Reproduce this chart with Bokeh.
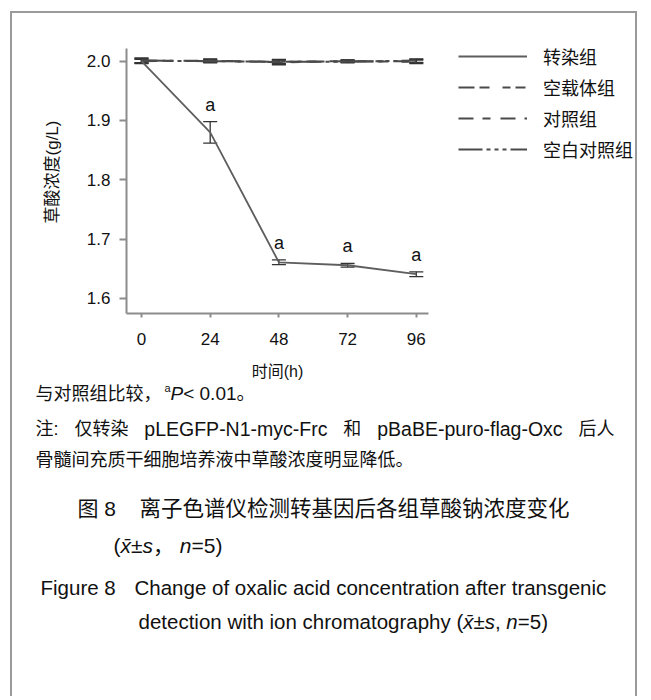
from bokeh.plotting import figure
from bokeh.models import (ColumnDataSource, Whisker, TeeHead, Legend, LegendItem,
                          FixedTicker, Range1d, PrintfTickFormatter)
from bokeh.core.properties import value
from bokeh.embed import file_html
from bokeh.resources import INLINE

# ---------------- data ----------------
hours = [0, 24, 48, 72, 96]
group_names = ["转染组", "空载体组", "对照组", "空白对照组"]
transfected = [2.000, 1.880, 1.661, 1.656, 1.641]
transfected_sd = [0.004, 0.018, 0.004, 0.003, 0.004]
empty_vector = [2.001, 2.000, 1.999, 2.000, 1.999]
empty_vector_sd = [0.004, 0.003, 0.004, 0.002, 0.003]
control = [2.000, 2.001, 1.998, 2.000, 2.000]
control_sd = [0.003, 0.003, 0.004, 0.002, 0.003]
blank = [2.001, 2.000, 1.999, 1.999, 2.001]
blank_sd = [0.004, 0.002, 0.003, 0.002, 0.003]
sig_marks = ["", "a", "a", "a", "a"]
y_ticks = [1.6, 1.7, 1.8, 1.9, 2.0]
x_label = "时间(h)"
y_label = "草酸浓度(g/L)"

# ---------------- layout constants ----------------
OX, OY = 12, 13                 # page position of the inner box
CW, CH = 627, 347               # chart figure size
MB_L, MB_R, MB_T, MB_B = 114, 0, 17, 47
CAP_Y0 = OY + CH
CAP_H = 698 - CAP_Y0            # caption figure height
BORDER = "2px solid #9a9a9a"

X_AXIS = (-5.24, 100.3)         # visible extent of the x axis (h)
Y_AXIS = (1.5747, 2.0214)       # visible extent of the y axis (g/L)
PX_PER_H = 2.8625
PX_PER_UNIT = 593.3
frame_w = CW - MB_L - MB_R
frame_h = CH - MB_T - MB_B
x_end = X_AXIS[0] + frame_w / PX_PER_H          # frame continues right for the key
y_end = Y_AXIS[0] + frame_h / PX_PER_UNIT        # and up a little above the axis

LATIN = "Liberation Sans"
MIX = "Liberation Sans, Noto Sans CJK SC"
CJK = "Noto Sans CJK SC"
TXT = "#111111"

p = figure(width=CW, height=CH, output_backend="svg", toolbar_location=None,
           x_range=Range1d(X_AXIS[0], x_end), y_range=Range1d(Y_AXIS[0], y_end),
           min_border_left=MB_L, min_border_right=MB_R,
           min_border_top=MB_T, min_border_bottom=MB_B,
           background_fill_color="white", border_fill_color="white",
           styles={"margin-left": "10px", "margin-top": "11px", "border-left": BORDER,
                   "border-right": BORDER, "border-top": BORDER})
p.outline_line_color = None
p.xgrid.visible = False
p.ygrid.visible = False

AX = "#8c8c8c"
for ax in (p.xaxis, p.yaxis):
    ax.axis_line_color = AX
    ax.axis_line_width = 2
    ax.major_tick_line_color = AX
    ax.major_tick_line_width = 2
    ax.minor_tick_line_color = None
    ax.major_tick_in = 0
    ax.major_label_text_font = LATIN
    ax.major_label_text_font_size = "17px"
    ax.major_label_text_color = TXT
    ax.axis_label_text_font = MIX
    ax.axis_label_text_font_style = "normal"
    ax.axis_label_text_color = TXT

p.xaxis.bounds = X_AXIS
p.xaxis.ticker = FixedTicker(ticks=hours)
p.xaxis.major_tick_out = 4
p.xaxis.major_label_standoff = 15

p.yaxis.bounds = Y_AXIS
p.yaxis.ticker = FixedTicker(ticks=y_ticks)
p.yaxis.formatter = PrintfTickFormatter(format="%.1f")
p.yaxis.major_tick_out = 7
p.yaxis.major_label_standoff = 9
p.yaxis.axis_label = y_label
p.yaxis.axis_label_text_font_size = "17px"
p.yaxis.axis_label_standoff = 22

# ---------------- series ----------------
series = [
    (group_names[1], empty_vector, empty_vector_sd, "16 5 10 13 8 5 10 5"),
    (group_names[2], control, control_sd, "15 9 8 10"),
    (group_names[3], blank, blank_sd, "24 4 4 4 4 4 4 4"),
]
renderers = {}
for name, vals, sd, dash in series:
    src = ColumnDataSource(dict(x=hours, y=vals,
                                lo=[v - s for v, s in zip(vals, sd)],
                                hi=[v + s for v, s in zip(vals, sd)]))
    r = p.line("x", "y", source=src, line_color="#4a4a4a", line_width=2, line_dash=dash)
    renderers[name] = r
    p.add_layout(Whisker(base="x", upper="hi", lower="lo", source=src,
                         line_color="#333333", line_width=1.3,
                         upper_head=TeeHead(size=14, line_color="#333333", line_width=1.3),
                         lower_head=TeeHead(size=14, line_color="#333333", line_width=1.3)))

tsrc = ColumnDataSource(dict(x=hours, y=transfected,
                             lo=[v - s for v, s in zip(transfected, transfected_sd)],
                             hi=[v + s for v, s in zip(transfected, transfected_sd)],
                             sig=sig_marks))
rt = p.line("x", "y", source=tsrc, line_color="#5e5e5e", line_width=1.8)
renderers[group_names[0]] = rt
p.add_layout(Whisker(base="x", upper="hi", lower="lo", source=tsrc,
                     line_color="#333333", line_width=1.3,
                     upper_head=TeeHead(size=14, line_color="#333333", line_width=1.3),
                     lower_head=TeeHead(size=14, line_color="#333333", line_width=1.3)))
p.text("x", "hi", text="sig", source=tsrc, y_offset=-17,
       text_font=value(LATIN), text_font_size="18px", text_color=TXT,
       text_align="center", text_baseline="middle")

legend = Legend(items=[LegendItem(label=n, renderers=[renderers[n]]) for n in group_names],
                location=(332, 151), orientation="vertical",
                border_line_color=None, background_fill_alpha=0,
                padding=0, margin=0, spacing=5,
                glyph_width=69, glyph_height=20, label_height=20, label_standoff=16,
                label_text_font=CJK, label_text_font_size="18px", label_text_color=TXT)
p.add_layout(legend)

# ---------------- captions (second root, stacked below) ----------------
cap = figure(width=CW, height=CAP_H, output_backend="svg", toolbar_location=None,
             x_range=Range1d(0, CW), y_range=Range1d(CAP_H, 0),
             x_axis_type=None, y_axis_type=None,
             min_border=0, background_fill_color="white", border_fill_color="white",
             styles={"margin-left": "10px", "border-left": BORDER, "border-right": BORDER})
cap.outline_line_color = None
cap.xgrid.visible = False
cap.ygrid.visible = False

ARIAL = {' ': 278, '!': 278, '(': 333, ')': 333, ',': 278, '-': 333, '.': 278, '/': 278,
         ':': 278, '<': 584, '=': 584, '>': 584, '±': 549, '\u0304': 0}
ARIAL.update({d: 556 for d in "0123456789"})
ARIAL.update(dict(zip("ABCDEFGHIJKLMNOPQRSTUVWXYZ",
                      [667, 667, 722, 722, 667, 611, 778, 722, 278, 500, 667, 556, 833,
                       722, 778, 667, 778, 722, 667, 611, 722, 667, 944, 667, 667, 611])))
ARIAL.update(dict(zip("abcdefghijklmnopqrstuvwxyz",
                      [556, 556, 500, 556, 556, 278, 556, 556, 222, 222, 500, 222, 833,
                       556, 556, 556, 556, 333, 500, 278, 556, 500, 722, 500, 500, 500])))


def tw(s, size):
    return sum(ARIAL.get(c, 1000 if ord(c) > 0x2E7F else 556) for c in s) / 1000 * size


def put(x, y, txt, size, style="normal", dy=0):
    cap.text(x=[x - OX], y=[y - CAP_Y0 - dy], text=[txt],
             text_font=value(MIX), text_font_size=f"{size}px",
             text_font_style=style, text_color=TXT,
             text_align="left", text_baseline="middle")


def run(x, y, segs):
    """x, y in page pixels; segments laid out left to right."""
    for seg in segs:
        txt, size = seg[0], seg[1]
        style = seg[2] if len(seg) > 2 else "normal"
        dy = seg[3] if len(seg) > 3 else 0
        put(x, y, txt, size, style, dy)
        x += tw(txt, size)


def justify(x0, x1, y, words):
    """words: list of (text, size); spread to fill x0..x1 like justified text."""
    widths = [tw(t, s) for t, s in words]
    gap = (x1 - x0 - sum(widths)) / (len(words) - 1)
    x = x0
    for (t, s), w in zip(words, widths):
        put(x, y, t, s)
        x += w + gap


# x-axis title, centred under the drawn axis (0..96 h span)
axis_mid_px = 126 + (sum(X_AXIS) / 2 - X_AXIS[0]) * PX_PER_H
put(axis_mid_px - tw(x_label, 16) / 2, 373, x_label, 16)

# note lines
run(35, 395, [("与对照组比较，", 18)])
put(164, 395, "a", 11, dy=6)
run(170, 395, [("P", 19, "italic"), (" < 0.01。", 19)])
justify(35, 614, 430, [("注:", 18), ("仅转染", 18), ("pLEGFP-N1-myc-Frc", 19.5), ("和", 18),
                       ("pBaBE-puro-flag-Oxc", 19.5), ("后人", 18)])
run(35, 461, [("骨髓间充质干细胞培养液中草酸浓度明显降低。", 18)])

# Chinese title
put(77, 510, "图 8", 21)
put(139, 510, "离子色谱仪检测转基因后各组草酸钠浓度变化", 21.5)
run(113, 547, [("(", 21), ("x\u0304", 21, "italic"), ("±", 21), ("s", 21, "italic"),
               ("，", 21), (" ", 21), ("n", 21, "italic"), ("=5)", 21)])

# English title
put(40, 589, "Figure 8", 20.5)
put(134, 589, "Change of oxalic acid concentration after transgenic", 20.5)
run(138, 623, [("detection with ion chromatography (", 20.5), ("x\u0304", 20.5, "italic"),
               ("±", 20.5), ("s", 20.5, "italic"), (", ", 20.5), ("n", 20.5, "italic"),
               ("=5)", 20.5)])

open("out.html", "w").write(file_html([p, cap], INLINE))
